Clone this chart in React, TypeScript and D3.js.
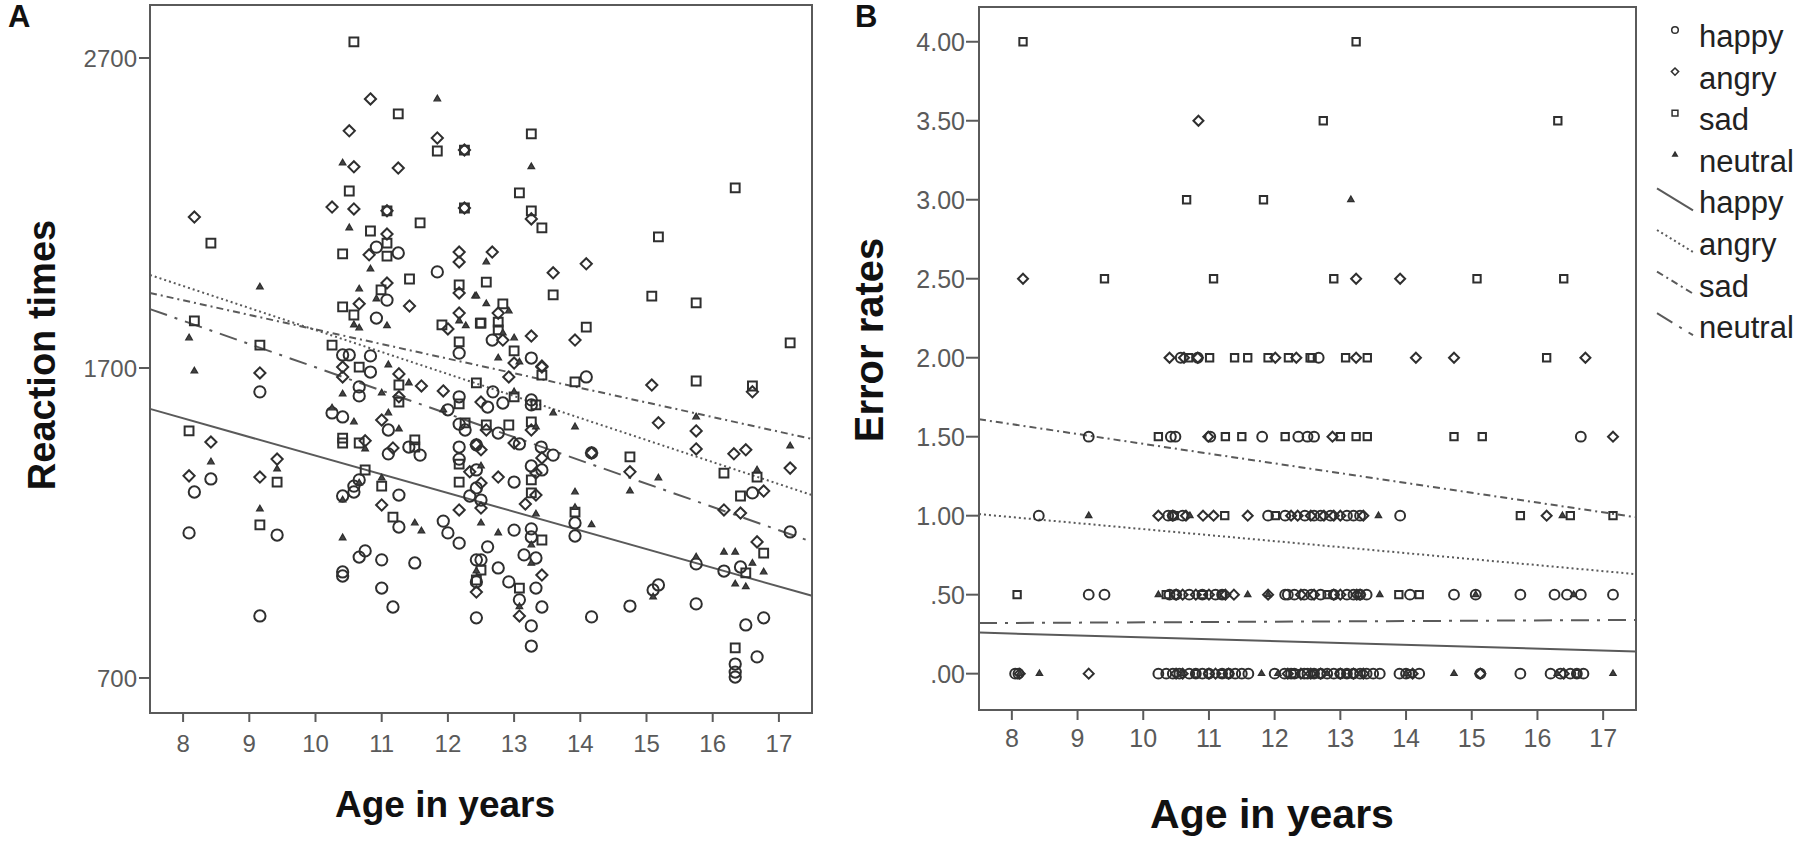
import * as d3 from "d3";

// ---- data ----
const conditions = ["happy", "angry", "sad", "neutral"];
const ageTicks = [8, 9, 10, 11, 12, 13, 14, 15, 16, 17];
const rtTicks = [700, 1700, 2700];
const errTicks = [0, 0.5, 1, 1.5, 2, 2.5, 3, 3.5, 4];
const errTickLabels = [".00", ".50", "1.00", "1.50", "2.00", "2.50", "3.00", "3.50", "4.00"];

// panel A: [age, reaction time]
const rtHappy = [
  [10.92, 2090], [11.25, 2071], [11.84, 2010], [11.08, 1919], [10.92, 1861], [10.41, 1742], [10.51, 1742],
  [10.83, 1739], [12.17, 1748], [12.67, 1790], [13.26, 1732], [9.16, 1623], [8.42, 1342], [8.17, 1300],
  [8.09, 1168], [9.42, 1161], [9.16, 900], [10.83, 1687], [10.66, 1639], [10.66, 1610], [12.17, 1607],
  [12.0, 1565], [10.25, 1555], [10.41, 1542], [11.1, 1500], [12.17, 1519], [12.26, 1500], [11.1, 1423],
  [11.41, 1445], [11.58, 1419], [12.17, 1445], [12.17, 1406], [10.66, 1339], [10.58, 1319], [10.58, 1300],
  [10.41, 1287], [11.26, 1290], [12.33, 1287], [12.43, 1313], [11.26, 1187], [11.93, 1206], [12.0, 1168],
  [12.17, 1135], [10.66, 1090], [10.75, 1110], [11.0, 1081], [11.5, 1071], [10.41, 1042], [10.41, 1029],
  [11.0, 990], [11.17, 929], [12.43, 894], [12.43, 1081], [12.68, 1623], [12.6, 1574], [12.83, 1587],
  [13.26, 1597], [13.26, 1581], [14.09, 1671], [16.6, 1297], [17.17, 1171], [15.75, 1068], [16.17, 1045],
  [16.42, 1058], [16.5, 871], [16.77, 894], [16.34, 745], [16.34, 719], [16.34, 703], [16.67, 768],
  [15.1, 984], [15.18, 1000], [14.75, 932], [15.75, 939], [14.17, 897], [14.17, 1426], [13.92, 1200],
  [13.92, 1158], [12.76, 1490], [13.08, 1455], [13.41, 1445], [13.59, 1419], [12.43, 1452], [13.26, 1384],
  [13.42, 1371], [12.43, 1371], [13.0, 1332], [12.5, 1274], [13.0, 1177], [13.26, 1181], [13.26, 1155],
  [12.6, 1123], [13.15, 1097], [13.33, 1087], [12.5, 1081], [12.76, 1055], [12.43, 1010], [12.92, 1010],
  [13.33, 990], [13.08, 952], [13.42, 929], [13.26, 868], [13.26, 803],
];
const rtAngry = [
  [10.83, 2568], [10.51, 2465], [11.84, 2442], [12.25, 2403], [10.58, 2349], [11.25, 2345], [8.17, 2187],
  [10.25, 2219], [10.58, 2213], [11.08, 2207], [12.25, 2216], [11.08, 2132], [10.81, 2065], [12.17, 2074],
  [12.17, 2042], [12.17, 1942], [11.08, 1974], [10.66, 1907], [11.42, 1900], [12.17, 1877], [12.0, 1826],
  [13.26, 2181], [12.67, 2074], [14.09, 2036], [13.59, 2007], [12.76, 1877], [12.83, 1790], [13.26, 1803],
  [13.92, 1790], [13.0, 1716], [13.42, 1706], [9.16, 1684], [8.42, 1461], [8.09, 1352], [9.42, 1406],
  [9.16, 1348], [10.41, 1703], [10.41, 1671], [11.26, 1681], [11.26, 1607], [11.6, 1642], [11.93, 1626],
  [11.0, 1532], [10.75, 1465], [11.17, 1442], [12.43, 1452], [12.33, 1365], [11.0, 1258], [12.17, 1242],
  [12.43, 977], [13.42, 1703], [12.92, 1671], [12.5, 1590], [15.08, 1645], [16.6, 1623], [15.18, 1523],
  [15.75, 1497], [15.75, 1439], [17.17, 1377], [16.32, 1423], [16.5, 1436], [16.77, 1303], [16.17, 1242],
  [16.42, 1232], [16.67, 1139], [14.75, 1365], [14.17, 1426], [13.33, 1361], [13.42, 1410], [13.0, 1458],
  [13.26, 1500], [12.58, 1500], [12.5, 1436], [12.76, 1348], [12.5, 1329], [13.33, 1290], [13.17, 1261],
  [12.5, 1248], [13.42, 1032], [13.08, 900],
];
const rtSad = [
  [10.58, 2752], [11.25, 2520], [11.84, 2400], [12.25, 2403], [10.51, 2271], [8.42, 2103], [11.08, 2207],
  [12.25, 2216], [11.58, 2168], [10.83, 2142], [10.41, 2068], [11.08, 2103], [11.08, 2061], [12.17, 1968],
  [11.42, 1987], [10.99, 1952], [10.41, 1897], [8.17, 1852], [10.58, 1871], [11.91, 1839], [12.49, 1845],
  [9.16, 1774], [10.25, 1774], [12.17, 1784], [13.26, 2455], [13.08, 2265], [13.26, 2207], [13.42, 2152],
  [16.34, 2281], [15.18, 2123], [12.58, 1977], [13.59, 1936], [15.08, 1932], [15.75, 1910], [17.17, 1781],
  [12.83, 1907], [12.5, 1845], [12.76, 1848], [12.76, 1823], [14.09, 1832], [13.0, 1755], [8.09, 1497],
  [9.42, 1332], [9.16, 1194], [10.66, 1703], [11.26, 1645], [11.26, 1590], [12.17, 1584], [12.26, 1523],
  [10.41, 1474], [10.41, 1458], [10.66, 1458], [11.5, 1468], [11.5, 1445], [12.17, 1390], [10.75, 1371],
  [11.0, 1319], [12.17, 1332], [11.17, 1219], [12.43, 1016], [13.42, 1677], [12.43, 1652], [13.0, 1607],
  [13.33, 1581], [13.92, 1655], [15.75, 1658], [16.6, 1642], [16.17, 1361], [16.67, 1348], [16.42, 1287],
  [16.77, 1103], [16.5, 1039], [16.34, 797], [14.75, 1413], [13.92, 1235], [13.26, 1526], [12.92, 1516],
  [12.58, 1516], [13.26, 1339], [13.26, 1297], [13.42, 1145], [12.5, 1048], [13.08, 990],
];
const rtNeutral = [
  [11.84, 2568], [10.41, 2361], [10.51, 2152], [10.83, 2019], [10.66, 1955], [10.92, 1923], [12.41, 1932],
  [9.16, 1961], [8.09, 1797], [10.58, 1839], [10.66, 1829], [11.08, 1836], [12.17, 1852], [12.27, 1836],
  [13.26, 2349], [12.58, 2042], [12.43, 1932], [12.58, 1907], [12.92, 1884], [12.83, 1813], [13.0, 1797],
  [12.76, 1732], [13.08, 1719], [8.17, 1690], [8.42, 1397], [9.42, 1374], [9.16, 1245], [11.1, 1710],
  [10.41, 1616], [11.0, 1619], [11.41, 1652], [11.93, 1565], [10.25, 1571], [10.58, 1526], [11.1, 1555],
  [11.26, 1503], [10.75, 1439], [10.66, 1329], [10.41, 1274], [11.0, 1345], [11.5, 1200], [11.6, 1174],
  [10.41, 1152], [12.43, 1045], [13.0, 1623], [13.59, 1555], [13.92, 1510], [15.75, 1542], [17.17, 1448],
  [16.67, 1371], [16.17, 1106], [16.34, 1106], [15.75, 1090], [16.77, 1042], [16.6, 1070], [16.34, 1003],
  [16.5, 994], [15.1, 961], [14.75, 1303], [15.18, 1345], [13.92, 1300], [13.92, 1250], [14.17, 1194],
  [13.33, 1510], [12.5, 1384], [13.33, 1229], [12.5, 1200], [12.76, 1168], [13.26, 1129], [13.26, 1070],
  [13.08, 930],
];

// panel B: [age, error rate]
const errHappy = [
  [10.57, 2], [10.83, 2], [12.67, 2], [9.17, 1.5], [10.42, 1.5], [10.49, 1.5], [11.02, 1.5], [11.81, 1.5],
  [12.36, 1.5], [12.5, 1.5], [12.6, 1.5], [16.66, 1.5], [8.41, 1], [10.38, 1], [10.45, 1], [10.6, 1],
  [11.9, 1], [12.16, 1], [12.46, 1], [12.6, 1], [12.7, 1], [12.85, 1], [13.1, 1], [13.2, 1], [13.3, 1],
  [13.91, 1], [9.17, 0.5], [9.41, 0.5], [10.4, 0.5], [10.5, 0.5], [10.7, 0.5], [10.9, 0.5], [11.1, 0.5],
  [11.2, 0.5], [12.16, 0.5], [12.2, 0.5], [12.3, 0.5], [12.45, 0.5], [12.56, 0.5], [12.7, 0.5], [12.9, 0.5],
  [13.1, 0.5], [13.2, 0.5], [13.3, 0.5], [13.4, 0.5], [14.06, 0.5], [14.73, 0.5], [15.06, 0.5], [15.74, 0.5],
  [16.26, 0.5], [16.45, 0.5], [16.66, 0.5], [17.15, 0.5], [8.05, 0], [8.1, 0], [10.23, 0], [10.35, 0],
  [10.45, 0], [10.55, 0], [10.7, 0], [10.8, 0], [10.9, 0], [11.0, 0], [11.2, 0], [11.3, 0], [11.4, 0],
  [11.5, 0], [11.6, 0], [12.0, 0], [12.15, 0], [12.25, 0], [12.3, 0], [12.45, 0], [12.5, 0], [12.6, 0],
  [12.7, 0], [12.8, 0], [12.9, 0], [13.0, 0], [13.1, 0], [13.2, 0], [13.3, 0], [13.4, 0], [13.5, 0],
  [13.6, 0], [13.9, 0], [14.0, 0], [14.2, 0], [15.13, 0], [15.74, 0], [16.2, 0], [16.35, 0], [16.5, 0],
  [16.6, 0], [16.7, 0],
];
const errAngry = [
  [10.84, 3.5], [8.17, 2.5], [13.24, 2.5], [13.91, 2.5], [10.4, 2], [10.62, 2], [10.83, 2], [12.01, 2],
  [12.33, 2], [13.24, 2], [14.15, 2], [14.73, 2], [16.73, 2], [10.99, 1.5], [12.88, 1.5], [17.15, 1.5],
  [10.23, 1], [10.45, 1], [10.65, 1], [10.91, 1], [11.07, 1], [11.59, 1], [12.25, 1], [12.35, 1], [12.55, 1],
  [12.75, 1], [12.9, 1], [13.0, 1], [13.35, 1], [16.14, 1], [10.5, 0.5], [10.6, 0.5], [10.8, 0.5],
  [11.0, 0.5], [11.25, 0.5], [11.38, 0.5], [11.9, 0.5], [12.4, 0.5], [12.6, 0.5], [12.9, 0.5], [13.0, 0.5],
  [13.25, 0.5], [13.3, 0.5], [8.12, 0], [9.17, 0], [10.5, 0], [10.6, 0], [11.0, 0], [11.1, 0], [11.3, 0],
  [12.2, 0], [12.4, 0], [12.55, 0], [12.7, 0], [13.0, 0], [13.2, 0], [13.35, 0], [14.1, 0], [15.13, 0],
  [16.4, 0],
];
const errSad = [
  [8.17, 4], [13.24, 4], [12.74, 3.5], [16.31, 3.5], [10.66, 3], [11.83, 3], [9.41, 2.5], [11.07, 2.5],
  [12.9, 2.5], [15.08, 2.5], [16.4, 2.5], [10.69, 2], [11.01, 2], [11.39, 2], [11.59, 2], [11.9, 2],
  [12.21, 2], [12.54, 2], [12.57, 2], [13.08, 2], [13.41, 2], [16.14, 2], [10.23, 1.5], [11.25, 1.5],
  [11.5, 1.5], [12.16, 1.5], [13.0, 1.5], [13.24, 1.5], [13.41, 1.5], [14.73, 1.5], [15.16, 1.5],
  [10.47, 1], [11.24, 1], [12.01, 1], [15.74, 1], [16.5, 1], [17.15, 1], [8.08, 0.5], [10.35, 0.5],
  [10.9, 0.5], [11.2, 0.5], [12.8, 0.5], [13.89, 0.5], [14.2, 0.5], [14.06, 0], [16.6, 0], [10.8, 0],
  [11.2, 0], [12.3, 0], [12.6, 0], [13.1, 0],
];
const errNeutral = [
  [13.16, 3], [9.17, 1], [10.71, 1], [13.58, 1], [16.38, 1], [10.23, 0.5], [11.59, 0.5], [11.9, 0.5],
  [13.6, 0.5], [15.06, 0.5], [16.55, 0.5], [8.12, 0], [8.42, 0], [10.6, 0], [11.8, 0], [12.05, 0],
  [12.8, 0], [13.3, 0], [14.0, 0], [14.73, 0], [16.3, 0], [17.15, 0],
];

// linear fits, value at the two ends of the age range
const fitAges = [7.5, 17.5];
const fitRtHappy = [1568, 965];
const fitRtAngry = [2000, 1290];
const fitRtSad = [1942, 1471];
const fitRtNeutral = [1890, 1139];
const fitErrHappy = [0.26, 0.14];
const fitErrAngry = [1.01, 0.63];
const fitErrSad = [1.61, 0.99];
const fitErrNeutral = [0.32, 0.34];

// ---- drawing ----
const FONT = "'Liberation Sans', Arial, sans-serif";
const INK = "#2f2f2f";
const GREY = "#5a5a5a";

const symbolTypes: any = {
  happy: d3.symbolCircle,
  angry: d3.symbolDiamond2,
  sad: d3.symbolSquare,
  neutral: d3.symbolTriangle2,
};
const dashes: any = { happy: null, angry: "2,3", sad: "7,4,2,4", neutral: "18,8,3,8" };

function symbolPath(cond: string, big: boolean) {
  const sizes: any = big
    ? { happy: 100, angry: 80, sad: 78, neutral: 30 }
    : { happy: 76, angry: 64, sad: 54, neutral: 28 };
  return d3.symbol().type(symbolTypes[cond]).size(sizes[cond])() as string;
}

function Points({ data, cond, x, y, big }: any) {
  const d = symbolPath(cond, big);
  const tri = cond === "neutral";
  return (
    <g>
      {data.map((p: number[], i: number) => (
        <path
          key={i}
          d={d}
          transform={`translate(${x(p[0])},${y(p[1])})`}
          fill={tri ? "#444" : "none"}
          stroke={INK}
          strokeWidth={tri ? 1.3 : 2}
        />
      ))}
    </g>
  );
}

function FitLine({ vals, cond, x, y }: any) {
  return (
    <line
      x1={x(fitAges[0])}
      y1={y(vals[0])}
      x2={x(fitAges[1])}
      y2={y(vals[1])}
      stroke={GREY}
      strokeWidth={2}
      strokeDasharray={dashes[cond] ?? undefined}
    />
  );
}

export default function App() {
  const xA = d3.scaleLinear([7.5, 17.5], [150, 812]);
  const yA = d3.scaleLinear([587, 2871], [713, 5]);
  const xB = d3.scaleLinear([7.5, 17.5], [979, 1636]);
  const yB = d3.scaleLinear([-0.23, 4.22], [710, 7]);

  const rtData = [rtHappy, rtAngry, rtSad, rtNeutral];
  const errData = [errHappy, errAngry, errSad, errNeutral];
  const rtFits = [fitRtHappy, fitRtAngry, fitRtSad, fitRtNeutral];
  const errFits = [fitErrHappy, fitErrAngry, fitErrSad, fitErrNeutral];

  const legendY = (i: number) => 47 + i * 41.6;

  return (
    <svg
      width={1800}
      height={850}
      style={{ position: "absolute", left: 0, top: 0, background: "#fff" }}
      fontFamily={FONT}
    >
      {/* ---------- panel A ---------- */}
      <text x={8} y={27} fontSize={31} fontWeight="bold" fill="#111">A</text>
      <rect x={150} y={5} width={662} height={708} fill="none" stroke={GREY} strokeWidth={2} />
      {rtTicks.map((t) => (
        <g key={t}>
          <line x1={139} x2={150} y1={yA(t)} y2={yA(t)} stroke={GREY} strokeWidth={2} />
          <text x={137} y={yA(t)} dy="0.36em" textAnchor="end" fontSize={24} fill={GREY}>{t}</text>
        </g>
      ))}
      {ageTicks.map((t) => (
        <g key={t}>
          <line x1={xA(t)} x2={xA(t)} y1={713} y2={722} stroke={GREY} strokeWidth={2} />
          <text x={xA(t)} y={752} textAnchor="middle" fontSize={24} fill={GREY}>{t}</text>
        </g>
      ))}
      {conditions.map((c, i) => (
        <FitLine key={c} vals={rtFits[i]} cond={c} x={xA} y={yA} />
      ))}
      {conditions.map((c, i) => (
        <Points key={c} data={rtData[i]} cond={c} x={xA} y={yA} big />
      ))}
      <text x={445} y={817} textAnchor="middle" fontSize={37} fontWeight="bold" fill="#111">Age in years</text>
      <text transform="translate(55,355) rotate(-90)" textAnchor="middle" fontSize={38} fontWeight="bold" fill="#111">
        Reaction times
      </text>

      {/* ---------- panel B ---------- */}
      <text x={855} y={27} fontSize={31} fontWeight="bold" fill="#111">B</text>
      <rect x={979} y={7} width={657} height={703} fill="none" stroke={GREY} strokeWidth={2} />
      {errTicks.map((t, i) => (
        <g key={t}>
          <line x1={966} x2={979} y1={yB(t)} y2={yB(t)} stroke={GREY} strokeWidth={2} />
          <text x={965} y={yB(t)} dy="0.36em" textAnchor="end" fontSize={25} fill={GREY}>{errTickLabels[i]}</text>
        </g>
      ))}
      {ageTicks.map((t) => (
        <g key={t}>
          <line x1={xB(t)} x2={xB(t)} y1={710} y2={720} stroke={GREY} strokeWidth={2} />
          <text x={xB(t)} y={747} textAnchor="middle" fontSize={25} fill={GREY}>{t}</text>
        </g>
      ))}
      {conditions.map((c, i) => (
        <FitLine key={c} vals={errFits[i]} cond={c} x={xB} y={yB} />
      ))}
      {conditions.map((c, i) => (
        <Points key={c} data={errData[i]} cond={c} x={xB} y={yB} big={false} />
      ))}
      <text x={1272} y={828} textAnchor="middle" fontSize={41} fontWeight="bold" fill="#111">Age in years</text>
      <text transform="translate(883,340) rotate(-90)" textAnchor="middle" fontSize={40} fontWeight="bold" fill="#111">
        Error rates
      </text>

      {/* ---------- legend ---------- */}
      {conditions.map((c, i) => (
        <g key={"m" + c}>
          <path
            d={d3.symbol().type(symbolTypes[c]).size(c === "neutral" ? 14 : 34)() as string}
            transform={`translate(1675,${legendY(i) - 17})`}
            fill={c === "neutral" ? "#444" : "none"}
            stroke={INK}
            strokeWidth={1.5}
          />
          <text x={1699} y={legendY(i)} fontSize={31} fill="#222">{c}</text>
        </g>
      ))}
      {conditions.map((c, i) => (
        <g key={"l" + c}>
          <line
            x1={1657}
            y1={legendY(i + 4) - 25}
            x2={1693}
            y2={legendY(i + 4) - 3}
            stroke={GREY}
            strokeWidth={2}
            strokeDasharray={dashes[c] ?? undefined}
          />
          <text x={1699} y={legendY(i + 4)} fontSize={31} fill="#222">{c}</text>
        </g>
      ))}
    </svg>
  );
}
